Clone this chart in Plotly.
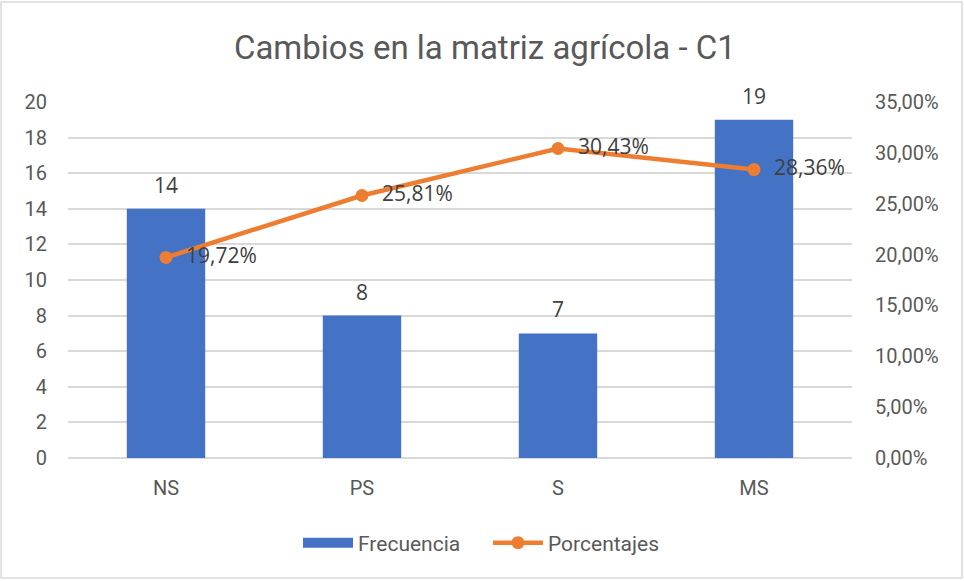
import plotly.graph_objects as go

# Data
categorias = ["NS", "PS", "S", "MS"]
frecuencia = [14, 8, 7, 19]
porcentajes = [0.1972, 0.2581, 0.3043, 0.2836]

AZUL = "#4472C4"
NARANJA = "#ED7D31"
GRIS_TEXTO = "#595959"
TICK_FONT = dict(family="Roboto, sans-serif", size=20, color=GRIS_TEXTO)
LABEL_FONT = dict(family="Open Sans, Noto Sans, sans-serif", size=21, color="#404040")

W, H = 964, 581
ML, MR, MT, MB = 68, 112, 102, 123

fig = go.Figure()

fig.add_trace(go.Bar(
    x=categorias, y=frecuencia, name="Frecuencia",
    marker=dict(color=AZUL, line=dict(width=0)),
    width=0.4, showlegend=False, hoverinfo="x+y",
))

# legend proxy so the bar entry shows as a wide rectangle
fig.add_trace(go.Scatter(
    x=[None], y=[None], name="Frecuencia", mode="lines",
    line=dict(color=AZUL, width=15),
))

fig.add_trace(go.Scatter(
    x=categorias, y=porcentajes, name="Porcentajes", yaxis="y2",
    mode="lines+markers+text",
    line=dict(color=NARANJA, width=4.5),
    marker=dict(color=NARANJA, size=13),
    texttemplate="  %{y:.2%}", textposition="middle right",
    textfont=LABEL_FONT, cliponaxis=False,
))

# bar value labels, sitting a little above each bar
for c, v in zip(categorias, frecuencia):
    fig.add_annotation(x=c, y=v, text=str(v), showarrow=False,
                       yanchor="middle", yshift=24, font=LABEL_FONT)

pw = W - ML - MR
ph = H - MT - MB

fig.update_layout(
    width=W, height=H,
    margin=dict(l=ML, r=MR, t=MT, b=MB),
    paper_bgcolor="white", plot_bgcolor="white",
    separators=",.",
    title=dict(text="Cambios en la matriz agrícola - C1", x=0.503, xref="container",
               y=1 - 47 / H, yref="container", xanchor="center", yanchor="middle",
               font=dict(family="Roboto, sans-serif", size=33, color=GRIS_TEXTO)),
    xaxis=dict(tickfont=TICK_FONT, showgrid=False, showline=False, ticks="", ticklabelstandoff=16),
    yaxis=dict(range=[0, 20], dtick=2, tickfont=TICK_FONT, gridcolor="#D9D9D9", gridwidth=1.5,
               zeroline=True, zerolinecolor="#D9D9D9", zerolinewidth=1.5,
               showline=False, ticks="", ticklabelstandoff=20, tickformat="d"),
    yaxis2=dict(range=[0, 0.35], dtick=0.05, tickformat=".2%", tickfont=TICK_FONT,
                overlaying="y", side="right", showgrid=False, zeroline=False,
                showline=False, ticks="", ticklabelstandoff=22),
    showlegend=True,
    legend=dict(orientation="h", x=(488 - ML) / pw, xanchor="center",
                y=(H - MB - 543) / ph, yanchor="middle",
                font=dict(family="Roboto, sans-serif", size=21, color=GRIS_TEXTO),
                traceorder="normal", entrywidth=125, itemwidth=50),
    bargap=0.6,
)

# Light border around the whole chart
fig.add_shape(type="rect", xref="paper", yref="paper",
              x0=(1 - ML) / pw, x1=(W - 2 - ML) / pw,
              y0=-(MB - 3) / ph, y1=1 + (MT - 2) / ph,
              line=dict(color="#D9D9D9", width=1.5), fillcolor="rgba(0,0,0,0)", layer="below")

fig.write_html("out.html", config={"displayModeBar": False},
               post_script="document.body.style.margin='0';")
